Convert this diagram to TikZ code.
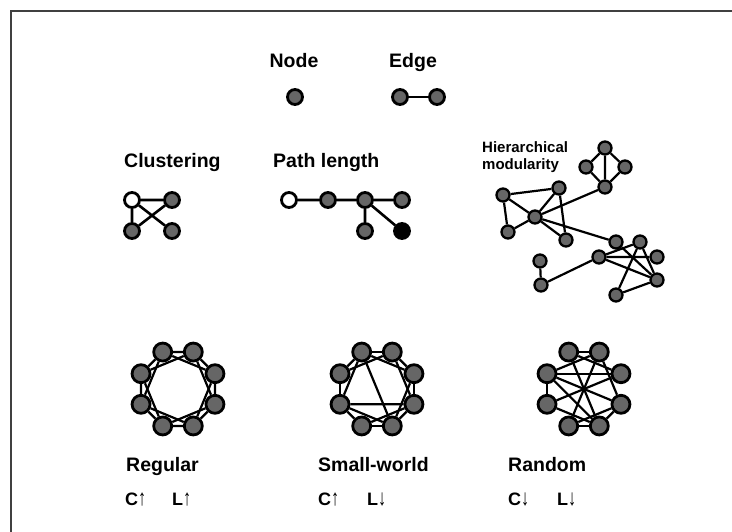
\documentclass[tikz,border=0pt]{standalone}
\usepackage{fontspec}
\usepackage{graphicx}
\setmainfont{Liberation Sans}
\usetikzlibrary{calc}
\newcommand{\uparr}{\scalebox{0.9}[1.25]{↑}}
\newcommand{\dnarr}{\scalebox{0.9}[1.25]{↓}}
\begin{document}
\begin{tikzpicture}[x=1pt,y=-1pt,
  vert/.style={circle,draw=black,line width=2.8pt,fill=gray!80!black,minimum size=15pt,inner sep=0pt},
  wvert/.style={vert,fill=white},
  bvert/.style={vert,fill=black},
  rvert/.style={vert,minimum size=18pt},
  hvert/.style={vert,minimum size=13pt,line width=2.3pt},
  link/.style={line width=2.6pt,black},
  thin link/.style={line width=2.2pt,black},
  title/.style={font=\fontsize{19.5}{22}\selectfont\bfseries,inner sep=0pt},
  small/.style={font=\fontsize{15}{17}\selectfont\bfseries,inner sep=0pt,align=left},
  ind/.style={font=\fontsize{18}{20}\selectfont\bfseries,inner sep=0pt}]
\useasboundingbox (0,0) rectangle (732,532);
\coordinate (fa) at (11,532);
\coordinate (fb) at (11,11);
\coordinate (fc) at (732,11);
\draw[line width=2pt,black!75] (fa) -- (fb) -- (fc);

% legend
\node[title,anchor=base] (tnode) at (294,68) {Node};
\node[title,anchor=base] (tedge) at (413,68) {Edge};
\node[vert] (n0) at (295,97) {};
\node[vert] (e1) at (400,97) {};
\node[vert] (e2) at (437,97) {};
\draw[link] (e1) -- (e2);

% clustering
\node[title,anchor=base west] (tclu) at (124,168) {Clustering};
\node[wvert] (c1) at (132,200) {};
\node[vert] (c2) at (172,200) {};
\node[vert] (c3) at (132,231) {};
\node[vert] (c4) at (172,231) {};
\draw[link] (c1) -- (c2) (c1) -- (c3) (c1) -- (c4) (c2) -- (c3);

% path length
\node[title,anchor=base west] (tpath) at (273,168) {Path length};
\node[wvert] (p1) at (289,200) {};
\node[vert] (p2) at (328,200) {};
\node[vert] (p3) at (365,200) {};
\node[vert] (p4) at (402,200) {};
\node[vert] (p5) at (365,231) {};
\node[bvert] (p6) at (402,231) {};
\draw[link] (p1) -- (p2) -- (p3) -- (p4) (p3) -- (p5) (p3) -- (p6);

% hierarchical modularity
\node[small,anchor=west] (thier) at (482,157) {Hierarchical\\modularity};
\begin{scope}[every node/.style={hvert}]
\node (hA) at (605,148) {};
\node (hB) at (586,167) {};
\node (hC) at (625,167) {};
\node (hD) at (605,187) {};
\node (hE) at (503,195) {};
\node (hF) at (559,188) {};
\node (hG) at (535,217) {};
\node (hH) at (508,232) {};
\node (hI) at (566,240) {};
\node (hJ) at (616,242) {};
\node (hK) at (640,242) {};
\node (hL) at (599,257) {};
\node (hM) at (657,257) {};
\node (hN) at (540,261) {};
\node (hO) at (541,285) {};
\node (hP) at (657,280) {};
\node (hQ) at (616,295) {};
\end{scope}
\begin{scope}[thin link]
\draw (hA) -- (hB) (hA) -- (hC) (hA) -- (hD) (hB) -- (hD) (hC) -- (hD);
\draw (hD) -- (hG);
\draw (hE) -- (hF) (hE) -- (hG) (hE) -- (hH) (hF) -- (hG) (hF) -- (hI)
      (hG) -- (hH) (hG) -- (hI) (hG) -- (hJ);
\draw (hL) -- (hK) (hL) -- (hM) (hL) -- (hP) (hJ) -- (hP) (hK) -- (hP)
      (hK) -- (hQ) (hQ) -- (hP);
\draw (hN) -- (hO) (hO) -- (hL);
\end{scope}

% rings
\foreach \nm/\cx in {reg/178,sw/377,rnd/584}{
  \foreach \i in {1,...,8}{
    \pgfmathsetmacro{\ang}{247.5+45*(\i-1)}
    \node[rvert] (\nm\i) at ($(\cx,389)+(\ang:40)$) {};
  }
}
% regular
\foreach \i in {1,...,8}{
  \pgfmathtruncatemacro{\j}{mod(\i,8)+1}
  \pgfmathtruncatemacro{\k}{mod(\i+1,8)+1}
  \draw[thin link] (reg\i) -- (reg\j) (reg\i) -- (reg\k);
}
% small world
\foreach \i in {1,...,8}{
  \pgfmathtruncatemacro{\j}{mod(\i,8)+1}
  \draw[thin link] (sw\i) -- (sw\j);
}
\foreach \a/\b in {1/3,2/4,3/5,4/6,5/7,7/1,8/2}{
  \draw[thin link] (sw\a) -- (sw\b);
}
\draw[thin link] (sw1) -- (sw5) (sw7) -- (sw4);
% random
\foreach \a/\b in {8/3,8/2,8/4,8/5,8/7,1/5,1/3,2/6,2/4,3/7,4/5,6/5,7/5,6/4,1/2}{
  \draw[thin link] (rnd\a) -- (rnd\b);
}

% labels
\node[title,anchor=base west] (treg) at (126,471) {Regular};
\node[title,anchor=base west] (tsw) at (318,471) {Small-world};
\node[title,anchor=base west] (trnd) at (508,471) {Random};
\node[ind,anchor=base west] (rc) at (125,505) {C\uparr};
\node[ind,anchor=base west] (rl) at (172,505) {L\uparr};
\node[ind,anchor=base west] (sc) at (318,505) {C\uparr};
\node[ind,anchor=base west] (sl) at (367,505) {L\dnarr};
\node[ind,anchor=base west] (nc) at (508,505) {C\dnarr};
\node[ind,anchor=base west] (nl) at (557,505) {L\dnarr};
\end{tikzpicture}
\end{document}
